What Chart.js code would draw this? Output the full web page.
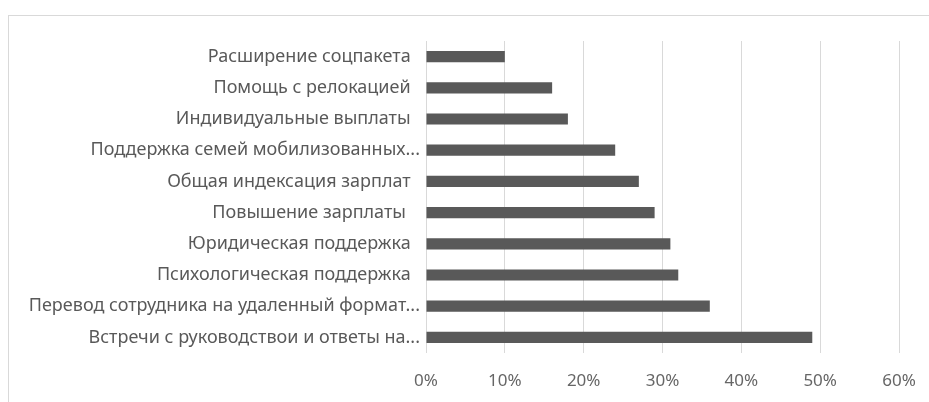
<!DOCTYPE html>
<html>
<head>
<meta charset="utf-8">
<script src="https://cdn.jsdelivr.net/npm/chart.js@4"></script>
<style>
  html, body { margin: 0; padding: 0; background: #fff; }
  #wrap { position: relative; width: 929px; height: 402px; overflow: hidden; }
  #frame { position: absolute; left: 8px; top: 15px; width: 940px; height: 420px; border: 1px solid #d9d9d9; }
  #myChart { position: absolute; left: 0; top: 0; }
</style>
</head>
<body>
<div id="wrap">
  <div id="frame"></div>
  <canvas id="myChart" width="929" height="402"></canvas>
</div>
<script>
const categories = [
  'Расширение соцпакета  ',
  'Помощь с релокацией  ',
  'Индивидуальные выплаты  ',
  'Поддержка семей мобилизованных...',
  'Общая индексация зарплат  ',
  'Повышение зарплаты   ',
  'Юридическая поддержка  ',
  'Психологическая поддержка  ',
  'Перевод сотрудника на удаленный формат...',
  'Встречи с руководствои и ответы на...'
]
const shares = [10, 16, 18, 24, 27, 29, 31, 32, 36, 49]
const xTicks = [0, 10, 20, 30, 40, 50, 60]

window.onload = ()=> {
  const ctx = document.getElementById('myChart')
  new Chart(ctx, {
    type: 'bar',
    data: {
      labels: categories,
      datasets: [{
        data: shares,
        backgroundColor: '#595959',
        barPercentage: 0.36,
        categoryPercentage: 1
      }]
    },
    options: {
      indexAxis: 'y',
      responsive: false,
      animation: false,
      layout: { padding: { left: 0, right: 30, top: 41, bottom: 0 } },
      plugins: { legend: { display: false }, tooltip: { enabled: false } },
      scales: {
        x: {
          min: 0,
          max: 60,
          afterBuildTicks: (scale)=> { scale.ticks = xTicks.map((v)=>({ value: v })) },
          afterFit: (scale)=> {
            scale.height = 49
            scale.paddingRight = 0
            scale.paddingLeft = 0
          },
          grid: { color: '#d9d9d9', drawTicks: false },
          border: { display: false },
          ticks: {
            padding: 18,
            color: '#666666',
            font: { family: 'Noto Sans', size: 17 },
            callback: (v)=> v + '%'
          }
        },
        y: {
          afterFit: (scale)=> { scale.width = 426 },
          grid: { display: false, drawTicks: false },
          border: { display: false },
          ticks: {
            padding: 6,
            color: '#595959',
            font: { family: 'Noto Sans', size: 18 }
          }
        }
      }
    }
  })
}
</script>
</body>
</html>
